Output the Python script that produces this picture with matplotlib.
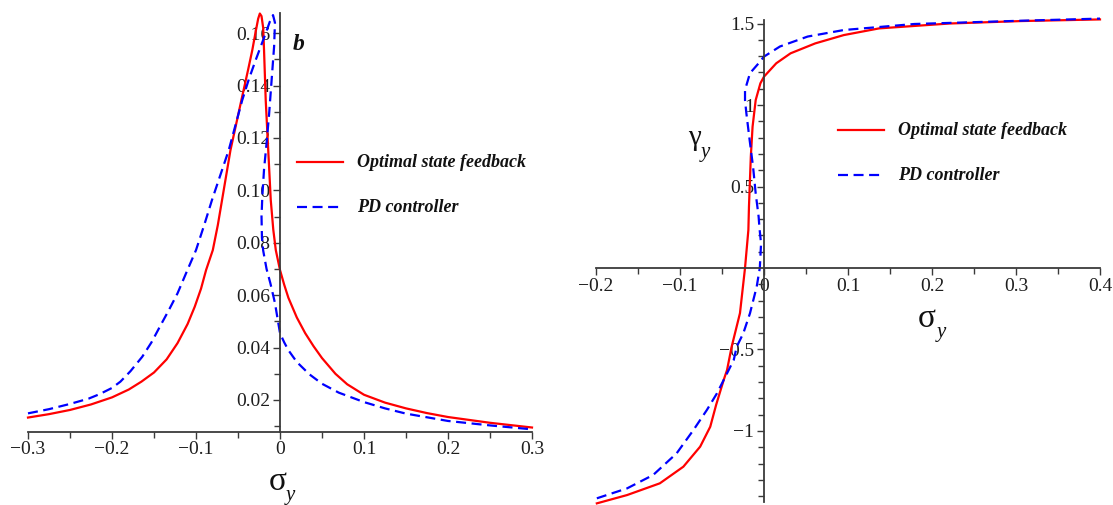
import matplotlib
matplotlib.use('Agg')
import matplotlib.pyplot as plt
from matplotlib.lines import Line2D
from matplotlib.ticker import MultipleLocator, FixedLocator

W, H = 1113, 505

# ---- panel b: amplitude vs detuning ----
amp_opt_x = [-0.300, -0.275, -0.250, -0.225, -0.200, -0.180, -0.165, -0.150, -0.135, -0.122,
             -0.110, -0.1015, -0.094, -0.088, -0.080, -0.074, -0.069, -0.059, -0.046, -0.038,
             -0.033, -0.029, -0.026, -0.024, -0.022, -0.020, -0.019, -0.017, -0.014, -0.011,
             -0.008, -0.005, 0.000, 0.005, 0.010, 0.020, 0.030, 0.040, 0.050, 0.066,
             0.080, 0.100, 0.125, 0.150, 0.175, 0.200, 0.250, 0.300]
amp_opt_y = [0.0133, 0.0146, 0.0162, 0.0183, 0.0210, 0.0240, 0.0270, 0.0305, 0.0355, 0.0417,
             0.0490, 0.0556, 0.0625, 0.0696, 0.0772, 0.0868, 0.0963, 0.1153, 0.1344, 0.1460,
             0.1535, 0.1605, 0.1655, 0.1675, 0.1665, 0.1620, 0.1535, 0.1344, 0.1153, 0.0963,
             0.0850, 0.0772, 0.0696, 0.0640, 0.0590, 0.0515, 0.0455, 0.0405, 0.0360, 0.0300,
             0.0260, 0.0220, 0.0190, 0.0168, 0.0150, 0.0135, 0.0113, 0.0095]

amp_pd_x = [-0.300, -0.275, -0.250, -0.228, -0.215, -0.200, -0.190, -0.178, -0.164, -0.153,
            -0.143, -0.132, -0.122, -0.111, -0.100, -0.090, -0.081, -0.061, -0.045, -0.037,
            -0.029, -0.017, -0.012, -0.0083, -0.006, -0.007, -0.010, -0.013, -0.016, -0.019,
            -0.021, -0.022, -0.0215, -0.020, -0.016, -0.0115, -0.006, 0.000, 0.005, 0.010,
            0.020, 0.035, 0.050, 0.070, 0.100, 0.125, 0.150, 0.200, 0.250, 0.300]
amp_pd_y = [0.0149, 0.0165, 0.0185, 0.0205, 0.0222, 0.0246, 0.0270, 0.0310, 0.0365, 0.0420,
            0.0480, 0.0545, 0.0607, 0.0690, 0.0772, 0.0870, 0.0963, 0.1154, 0.1344, 0.1425,
            0.1497, 0.1600, 0.1645, 0.1669, 0.1640, 0.1550, 0.1420, 0.1290, 0.1180, 0.1080,
            0.0980, 0.0900, 0.0820, 0.0770, 0.0700, 0.0646, 0.0570, 0.0455, 0.0420, 0.0390,
            0.0345, 0.0298, 0.0262, 0.0228, 0.0192, 0.0168, 0.0148, 0.0120, 0.0103, 0.0088]

# ---- right panel: phase vs detuning ----
ph_opt_x = [-0.199, -0.163, -0.124, -0.096, -0.076, -0.064, -0.057, -0.048, -0.044, -0.0385,
            -0.0286, -0.0226, -0.0186, -0.0179, -0.0157, -0.0136, -0.0099, -0.0043, 0.000, 0.0146,
            0.0316, 0.061, 0.095, 0.137, 0.221, 0.306, 0.400]
ph_opt_y = [-1.444, -1.393, -1.321, -1.219, -1.096, -0.974, -0.840, -0.687, -0.626, -0.483,
            -0.277, 0.000, 0.233, 0.376, 0.683, 0.867, 1.030, 1.133, 1.174, 1.256,
            1.317, 1.378, 1.429, 1.470, 1.500, 1.515, 1.525]

ph_pd_x = [-0.199, -0.163, -0.132, -0.104, -0.084, -0.068, -0.056, -0.048, -0.036, -0.0325,
           -0.0246, -0.0167, -0.0087, -0.005, -0.0035, -0.0055, -0.0064, -0.0099, -0.013, -0.0171,
           -0.021, -0.0226, -0.0226, -0.0167, -0.0064, 0.000, 0.019, 0.052, 0.095, 0.179,
           0.306, 0.400]
ph_pd_y = [-1.413, -1.352, -1.270, -1.137, -0.994, -0.871, -0.769, -0.687, -0.564, -0.483,
           -0.400, -0.278, -0.115, 0.000, 0.150, 0.250, 0.315, 0.458, 0.620, 0.785,
           0.950, 1.030, 1.092, 1.195, 1.256, 1.297, 1.359, 1.420, 1.460, 1.497,
           1.517, 1.530]

labels = ['Optimal state feedback', 'PD controller']
left_xticks = [-0.3, -0.2, -0.1, 0.0, 0.1, 0.2, 0.3]
left_yticks = [0.02, 0.04, 0.06, 0.08, 0.10, 0.12, 0.14, 0.16]
right_xticks = [-0.2, -0.1, 0.0, 0.1, 0.2, 0.3, 0.4]
right_yticks = [-1.0, -0.5, 0.5, 1.0, 1.5]

RED = '#ff0000'
BLUE = '#0000ff'
AXC = '#3a3a3a'

plt.rcParams['font.family'] = ['Liberation Serif', 'DejaVu Serif']

fig = plt.figure(figsize=(W / 100, H / 100), dpi=100)


def fx(px):
    return px / W


def fy(py):
    return 1 - py / H


def fmt(v):
    s = ('%g' % round(v, 3))
    return s.replace('-', '\u2212')


def style(ax):
    ax.patch.set_alpha(0)
    for s in ('top', 'right'):
        ax.spines[s].set_visible(False)
    for s in ('left', 'bottom'):
        ax.spines[s].set_color(AXC)
        ax.spines[s].set_linewidth(1.3)
    ax.spines['left'].set_position(('data', 0))
    ax.tick_params(which='both', direction='out', color=AXC, width=1.0,
                   labelsize=14, labelcolor='#1e1e1e')
    ax.tick_params(which='major', length=5, pad=2)
    ax.tick_params(which='minor', length=4)


# left panel
axL = fig.add_axes([fx(28), fy(431.7), 504 / W, (431.7 - 13) / H])
style(axL)
axL.set_xlim(-0.3, 0.3)
axL.set_ylim(0.0079, 0.1677)
axL.set_xticks(left_xticks)
axL.set_xticklabels([fmt(v) for v in left_xticks])
axL.set_yticks(left_yticks)
axL.set_yticklabels(['%.2f' % v for v in left_yticks])
axL.xaxis.set_minor_locator(MultipleLocator(0.05))
axL.yaxis.set_minor_locator(MultipleLocator(0.01))
axL.plot(amp_opt_x, amp_opt_y, color=RED, lw=1.6, clip_on=False)
axL.plot(amp_pd_x, amp_pd_y, color=BLUE, lw=1.6, dashes=(4.5, 2.5), clip_on=False)

# right panel
axR = fig.add_axes([fx(596), fy(502), 504 / W, (502 - 20) / H])
style(axR)
axR.spines['bottom'].set_position(('data', 0))
axR.set_xlim(-0.2, 0.4)
axR.set_ylim(-1.4356, 1.5215)
axR.set_xticks(right_xticks)
axR.set_xticklabels([fmt(v) for v in right_xticks])
axR.set_yticks(right_yticks)
axR.set_yticklabels([fmt(v) for v in right_yticks])
axR.xaxis.set_minor_locator(MultipleLocator(0.05))
axR.yaxis.set_minor_locator(FixedLocator([v / 10 for v in range(-14, 16) if v % 5 != 0]))
axR.plot(ph_opt_x, ph_opt_y, color=RED, lw=1.6, clip_on=False)
axR.plot(ph_pd_x, ph_pd_y, color=BLUE, lw=1.6, dashes=(4.5, 2.5), clip_on=False)

# legends drawn by hand, like the Maple export
for x0, ys in ((297, (162, 207)), (838, (130, 175))):
    for (y0, lab, col, dash) in zip(ys, labels, (RED, BLUE), (None, (4.5, 2.5))):
        ln = Line2D([fx(x0), fx(x0 + 46)], [fy(y0), fy(y0)], transform=fig.transFigure,
                    color=col, lw=1.6)
        if dash:
            ln.set_dashes(dash)
        fig.add_artist(ln)
        fig.text(fx(x0 + 60), fy(y0 + 5), lab, fontsize=13, fontweight='bold',
                 fontstyle='italic', color='#111111', ha='left', va='baseline')

# panel letter
fig.text(fx(293), fy(50), 'b', fontsize=17, fontweight='bold', fontstyle='italic',
         ha='left', va='baseline', color='#111111')

# axis labels
fig.text(fx(278), fy(490), '\u03c3', fontsize=24, ha='center', va='baseline', color='#111111')
fig.text(fx(290), fy(500), 'y', fontsize=15, fontstyle='italic', ha='center', va='baseline',
         color='#111111')
fig.text(fx(927), fy(327), '\u03c3', fontsize=24, ha='center', va='baseline', color='#111111')
fig.text(fx(941), fy(337), 'y', fontsize=15, fontstyle='italic', ha='center', va='baseline',
         color='#111111')
fig.text(fx(694), fy(145), '\u03b3', fontsize=21, ha='center', va='baseline', color='#111111')
fig.text(fx(705), fy(157), 'y', fontsize=15, fontstyle='italic', ha='center', va='baseline',
         color='#111111')

fig.savefig('out.png', dpi=100)
